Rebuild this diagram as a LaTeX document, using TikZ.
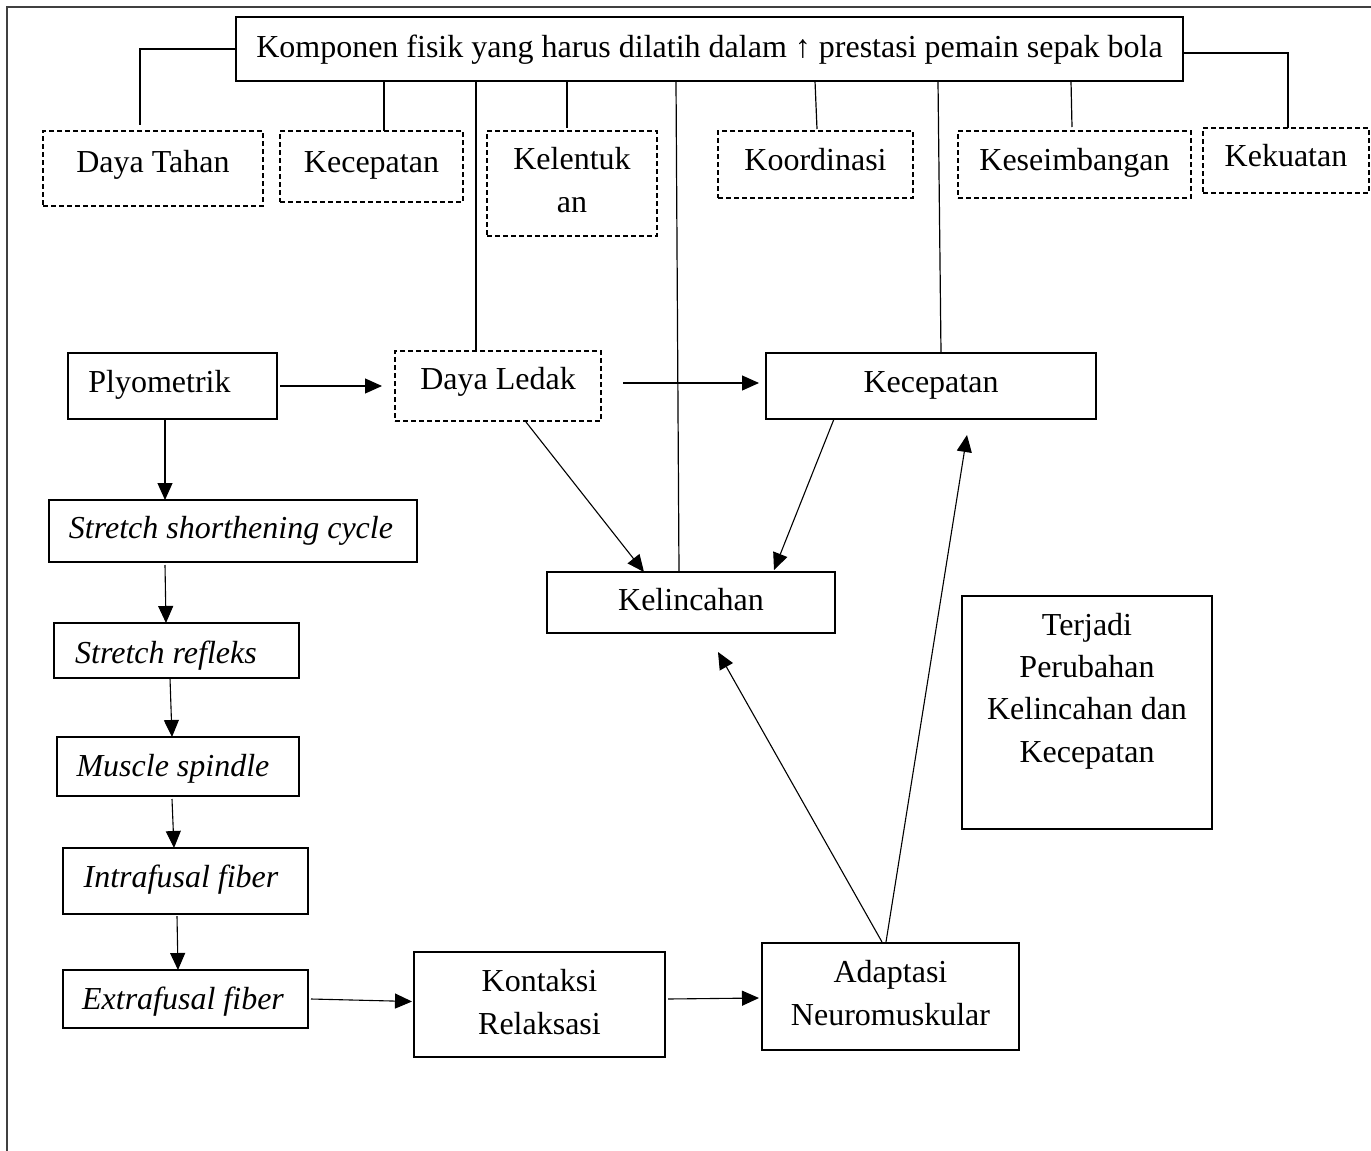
\documentclass[tikz,border=0pt]{standalone}
\usepackage{fontspec}
\setmainfont{Liberation Serif}
\usetikzlibrary{arrows.meta}
\newcommand{\padr}[1]{\rule{#1}{0pt}}
\begin{document}
\begin{tikzpicture}[x=1pt,y=-1pt,
  every node/.style={inner sep=0pt,outer sep=0pt,font=\fontsize{32}{42.3}\selectfont},
  box/.style={draw,line width=1.4pt},
  dbox/.style={draw,line width=1.2pt,dash pattern=on 5pt off 3pt},
  link/.style={line width=1.2pt},
  arr/.style={line width=1.1pt,-{Triangle[length=17pt,width=15pt]}},
]
\useasboundingbox (0,0) rectangle (1371,1151);
% frame
\coordinate (fa) at (7,1151);
\coordinate (fb) at (7,7);
\coordinate (fc) at (1371,7);
\draw[line width=1.6pt,black!75] (fa) -- (fb) -- (fc);

% top box
\node[box,minimum width=947pt,text height=40pt,text depth=24pt] (top) at (709.5,49)
  {Komponen fisik yang harus dilatih dalam ↑ prestasi pemain sepak bola};

% dashed components
\node[dbox,minimum width=220pt,text height=41pt,text depth=34pt] (tahan) at (153,168.5) {Daya Tahan};
\node[dbox,minimum width=183pt,text height=41pt,text depth=30pt] (kec1) at (371.5,166.5) {Kecepatan};
\node[dbox,minimum width=170pt,text height=81pt,text depth=24pt] (lentuk) at (572,183.5)
  {\begin{tabular}[b]{@{}c@{}}Kelentuk\\an\end{tabular}};
\node[dbox,minimum width=195pt,text height=39pt,text depth=28pt] (koord) at (815.5,164.5) {Koordinasi};
\node[dbox,minimum width=233pt,text height=39pt,text depth=28pt] (seimb) at (1074.5,164.5) {Keseimbangan};
\node[dbox,minimum width=166pt,text height=38pt,text depth=27pt] (kuat) at (1286,160.5) {Kekuatan};

% middle row
\node[box,minimum width=209pt,text height=39pt,text depth=27pt] (plyo) at (172.5,386) {Plyometrik\padr{26pt}};
\node[dbox,minimum width=206pt,text height=38pt,text depth=32pt] (ledak) at (498,386) {Daya Ledak};
\node[box,minimum width=330pt,text height=39pt,text depth=27pt] (kec2) at (931,386) {Kecepatan};
\node[box,minimum width=288pt,text height=38pt,text depth=23pt] (kel) at (691,602.5) {Kelincahan};

% left chain
\node[box,minimum width=368pt,text height=38pt,text depth=24pt] (ssc) at (233,531) {\itshape Stretch shorthening cycle\padr{4pt}};
\node[box,minimum width=245pt,text height=40pt,text depth=15pt] (refl) at (176.5,650.5) {\itshape Stretch refleks\padr{21pt}};
\node[box,minimum width=242pt,text height=39pt,text depth=20pt] (spindle) at (178,766.5) {\itshape Muscle spindle\padr{10pt}};
\node[box,minimum width=245pt,text height=39pt,text depth=27pt] (intra) at (185.5,881) {\itshape Intrafusal fiber\padr{9pt}};
\node[box,minimum width=245pt,text height=39pt,text depth=19pt] (extra) at (185.5,999) {\itshape Extrafusal fiber\padr{5pt}};

% bottom row
\node[box,minimum width=251pt,text height=82pt,text depth=23pt] (kontak) at (539.5,1004.5)
  {\begin{tabular}[b]{@{}c@{}}Kontaksi\\Relaksasi\end{tabular}};
\node[box,minimum width=257pt,text height=82pt,text depth=25pt] (adapt) at (890.5,996.5)
  {\begin{tabular}[b]{@{}c@{}}Adaptasi\\Neuromuskular\end{tabular}};
\node[box,minimum width=250pt,text height=166pt,text depth=67pt] (terjadi) at (1087,712.5)
  {\begin{tabular}[b]{@{}c@{}}Terjadi\\Perubahan\\Kelincahan dan\\Kecepatan\end{tabular}};

% links from top box
\draw[link] (top.west) -| ([xshift=-13pt,yshift=6pt]tahan.north);
\draw[link] ([xshift=-325.5pt]top.south) -- ([xshift=12.5pt]kec1.north);
\draw[link] ([xshift=-233.5pt]top.south) -- ([xshift=-22pt]ledak.north);
\draw[link] ([xshift=-142.5pt]top.south) -- ([xshift=-5pt,yshift=3pt]lentuk.north);
\draw[link] ([xshift=-33.5pt]top.south) -- ([xshift=-12pt]kel.north);
\draw[link] ([xshift=105.5pt]top.south) -- ([xshift=1.5pt,yshift=2pt]koord.north);
\draw[link] ([xshift=228.5pt]top.south) -- ([xshift=10pt]kec2.north);
\draw[link] ([xshift=361.5pt]top.south) -- ([xshift=-2.5pt,yshift=4pt]seimb.north);
\draw[link] ([yshift=-4pt]top.east) -| ([xshift=2pt]kuat.north);

% arrows
\draw[arr] ([xshift=3pt]plyo.east) -- ([xshift=-13pt]ledak.west);
\draw[arr] ([xshift=-7.5pt]plyo.south) -- ([xshift=-68pt]ssc.north);
\draw[arr] ([xshift=-68pt,yshift=-3pt]ssc.south) -- ([xshift=-10.5pt]refl.north);
\draw[arr] ([xshift=-6.5pt]refl.south) -- ([xshift=-6pt]spindle.north);
\draw[arr] ([xshift=-6pt,yshift=-3pt]spindle.south) -- ([xshift=-11.5pt]intra.north);
\draw[arr] ([xshift=-8.5pt,yshift=-2pt]intra.south) -- ([xshift=-7.5pt]extra.north);
\draw[arr] ([xshift=3pt]extra.east) -- ([xshift=-2pt,yshift=3pt]kontak.west);
\draw[arr] ([xshift=3pt,yshift=5.5pt]kontak.east) -- ([xshift=-3pt,yshift=-1.5pt]adapt.west);
\draw[arr] ([xshift=28pt,yshift=-1pt]ledak.south) -- ([xshift=-47pt]kel.north);
\draw[arr] ([xshift=22pt,yshift=3pt]ledak.east) -- ([xshift=-7pt,yshift=3pt]kec2.west);
\draw[arr] ([xshift=-97pt]kec2.south) -- ([xshift=83pt,yshift=2pt]kel.north);
\draw[arr] ([xshift=-8.5pt,yshift=1pt]adapt.north) -- ([xshift=27pt,yshift=-19pt]kel.south);
\draw[arr] ([xshift=-4.5pt,yshift=1pt]adapt.north) -- ([xshift=36pt,yshift=-16pt]kec2.south);
\end{tikzpicture}
\end{document}
